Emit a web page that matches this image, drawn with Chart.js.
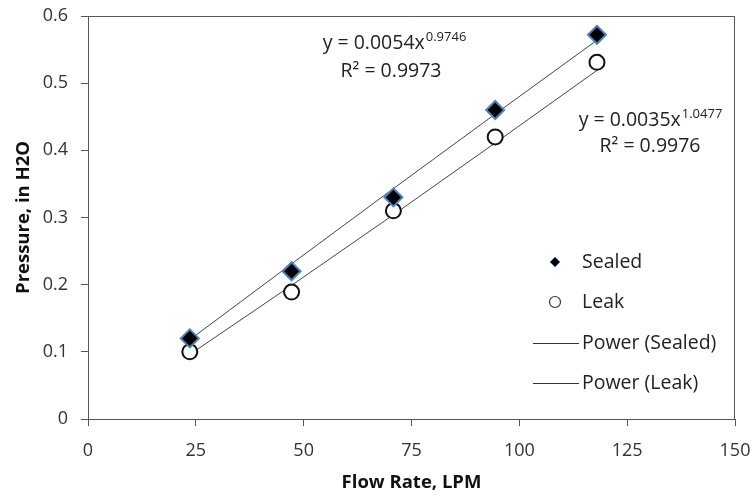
<!DOCTYPE html>
<html><head><meta charset="utf-8">
<script src="https://cdn.jsdelivr.net/npm/chart.js@4/dist/chart.umd.min.js"></script>
<style>html,body{margin:0;padding:0;background:#fff}#wrap{width:755px;height:496px}</style>
</head><body><div id="wrap"><canvas id="c" width="755" height="496"></canvas></div>
<script>
const flowRate = [23.6, 47.2, 70.8, 94.4, 118];
const sealed = [0.12, 0.22, 0.33, 0.46, 0.572];
const leak = [0.10, 0.189, 0.31, 0.42, 0.531];
const sealedTrend = [0.118, 0.231, 0.343, 0.454, 0.564];
const leakTrend = [0.096, 0.199, 0.304, 0.411, 0.519];
const xTicks = [0, 25, 50, 75, 100, 125, 150];
const yTicks = [0, 0.1, 0.2, 0.3, 0.4, 0.5, 0.6];
const seriesNames = ['Sealed', 'Leak', 'Power (Sealed)', 'Power (Leak)'];
const eqSealed = ['y = 0.0054x', '0.9746', 'R² = 0.9973'];
const eqLeak = ['y = 0.0035x', '1.0477', 'R² = 0.9976'];

const FONT = '"Open Sans", sans-serif';
const pts = (ys) => flowRate.map((x, i) => ({x, y: ys[i]}));

const overlay = {
  id: 'overlay',
  afterDraw(chart) {
    const ctx = chart.ctx, a = chart.chartArea;
    ctx.save();
    // frame top/right
    ctx.strokeStyle = '#555'; ctx.lineWidth = 1;
    ctx.beginPath();
    ctx.moveTo(a.left, a.top + 0.5); ctx.lineTo(a.right - 0.5, a.top + 0.5); ctx.lineTo(a.right - 0.5, a.bottom);
    ctx.stroke();
    // equations
    function eq(lines, cx, y1, y2, rdx) {
      ctx.fillStyle = '#222';
      ctx.textBaseline = 'alphabetic';
      ctx.font = '19.5px ' + FONT;
      const w1 = ctx.measureText(lines[0]).width;
      ctx.font = '13px ' + FONT;
      const w2 = ctx.measureText(lines[1]).width;
      const start = cx - (w1 + w2) / 2;
      ctx.textAlign = 'left';
      ctx.font = '19.5px ' + FONT;
      ctx.fillText(lines[0], start, y1);
      ctx.font = '13px ' + FONT;
      ctx.fillText(lines[1], start + w1 + 1, y1 - 8);
      ctx.font = '19.5px ' + FONT;
      ctx.textAlign = 'center';
      ctx.fillText(lines[2], cx + rdx, y2);
    }
    eq(eqSealed, 394, 49, 77, -3);
    eq(eqLeak, 650, 126, 152, 0);
    // legend
    ctx.font = '19.5px ' + FONT;
    ctx.textAlign = 'left'; ctx.textBaseline = 'middle'; ctx.fillStyle = '#222';
    const lx = 582, rows = [262, 302, 343, 383];
    rows.forEach((y, i) => ctx.fillText(seriesNames[i], lx, y));
    // sealed marker
    ctx.beginPath();
    ctx.moveTo(555, 262 - 5); ctx.lineTo(560, 262); ctx.lineTo(555, 262 + 5); ctx.lineTo(550, 262); ctx.closePath();
    ctx.fillStyle = '#000'; ctx.fill(); ctx.strokeStyle = '#4F81BD'; ctx.lineWidth = 1; ctx.stroke();
    // leak marker
    ctx.beginPath(); ctx.arc(555, 302, 5.5, 0, Math.PI * 2);
    ctx.fillStyle = '#fff'; ctx.fill(); ctx.strokeStyle = '#333'; ctx.lineWidth = 1.2; ctx.stroke();
    // line samples
    ctx.strokeStyle = '#333'; ctx.lineWidth = 1;
    [343, 383].forEach(y => { ctx.beginPath(); ctx.moveTo(533, y + 0.5); ctx.lineTo(579, y + 0.5); ctx.stroke(); });
    ctx.restore();
  }
};

new Chart(document.getElementById('c'), {
  type: 'scatter',
  data: {
    datasets: [
      {label: seriesNames[0], data: pts(sealed), pointStyle: 'rectRot', pointRadius: 9, pointHoverRadius: 9,
       backgroundColor: '#000', borderColor: '#4F81BD', pointBorderWidth: 2, order: 1},
      {label: seriesNames[1], data: pts(leak), pointStyle: 'circle', pointRadius: 7.5, pointHoverRadius: 7.5,
       backgroundColor: '#fff', borderColor: '#111', pointBorderWidth: 2, order: 2},
      {label: seriesNames[2], data: pts(sealedTrend), showLine: true, pointRadius: 0, borderColor: '#444', borderWidth: 1, order: 3},
      {label: seriesNames[3], data: pts(leakTrend), showLine: true, pointRadius: 0, borderColor: '#444', borderWidth: 1, order: 4}
    ]
  },
  options: {
    responsive: false, animation: false, devicePixelRatio: 1,
    layout: {padding: {top: 16, right: 20, left: 0, bottom: 0}},
    plugins: {legend: {display: false}, tooltip: {enabled: false}},
    scales: {
      x: {
        type: 'linear', min: 0, max: 150,
        afterBuildTicks: (s) => { s.ticks = xTicks.map(v => ({value: v})); },
        afterFit: (s) => { s.height = 77; s.paddingLeft = 0; s.paddingRight = 0; },
        grid: {drawOnChartArea: false, tickColor: '#555', tickLength: 7},
        border: {display: true, color: '#555', width: 1},
        ticks: {color: '#333', font: {family: FONT, size: 18}, padding: 14, maxRotation: 0},
        title: {display: true, text: 'Flow Rate, LPM', color: '#111', font: {family: FONT, size: 18.5, weight: 'bold'}, padding: {top: 0, bottom: 2}}
      },
      y: {
        type: 'linear', min: 0, max: 0.6,
        afterBuildTicks: (s) => { s.ticks = yTicks.map(v => ({value: v})); },
        afterFit: (s) => { s.width = 88; s.paddingTop = 0; s.paddingBottom = 0; },
        grid: {drawOnChartArea: false, tickColor: '#555', tickLength: 7},
        border: {display: true, color: '#555', width: 1},
        ticks: {color: '#333', font: {family: FONT, size: 18}, padding: 13, callback: (v) => String(Math.round(v * 10) / 10)},
        title: {display: true, text: 'Pressure, in H2O', color: '#111', font: {family: FONT, size: 18.5, weight: 'bold'}, padding: {top: 13, bottom: 0}}
      }
    }
  },
  plugins: [overlay]
});
</script></body></html>
